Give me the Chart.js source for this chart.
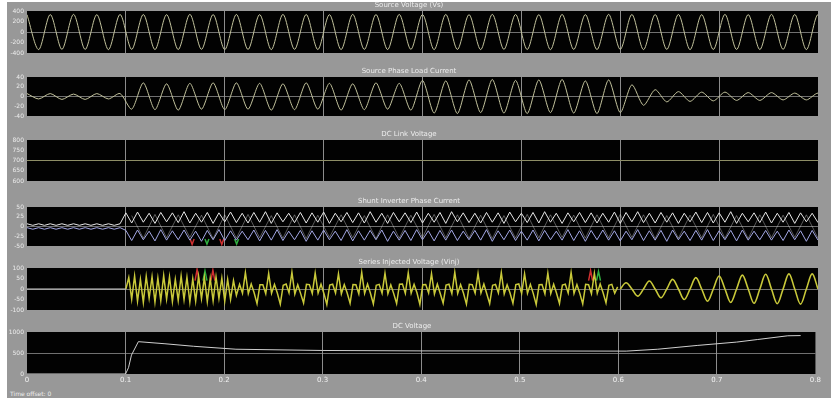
<!DOCTYPE html>
<html>
<head>
<meta charset="utf-8">
<script src="https://cdn.jsdelivr.net/npm/chart.js@4.4.1/dist/chart.umd.min.js"></script>
<style>
  html, body { margin: 0; padding: 0; background: #fff; }
  body { width: 831px; height: 398px; position: relative; overflow: hidden; font-family: "DejaVu Sans", sans-serif; }
  #frame { position: absolute; left: 7px; top: 2px; width: 824px; height: 396px; background: #989898; }
  .panel { position: absolute; left: 0; }
  .panel canvas { display: block; }
  #offset { position: absolute; left: 10px; top: 390px; font-size: 6px; color: #eee; }
</style>
</head>
<body>
<div id="frame"></div>
<div class="panel" style="top:0px"><canvas id="c1" width="818" height="59"></canvas></div>
<div class="panel" style="top:66px"><canvas id="c2" width="818" height="56"></canvas></div>
<div class="panel" style="top:129px"><canvas id="c3" width="818" height="58"></canvas></div>
<div class="panel" style="top:196px"><canvas id="c4" width="818" height="56"></canvas></div>
<div class="panel" style="top:257px"><canvas id="c5" width="818" height="59"></canvas></div>
<div class="panel" style="top:321px"><canvas id="c6" width="824" height="66"></canvas></div>
<div id="offset">Time offset:  0</div>
<script>
// sample spacing on the time axis (one mains period = 0.8 / 34)
const halfStep = 0.8 / 68;
const quarterStep = 0.8 / 136;
const eighthStep = 0.8 / 272;

const timeTicks = { min: 0, max: 0.8, step: 0.1 };

// Panel 1 - source voltage, peaks/troughs every half period
const p1Voltage = [330,-335,332,-330,336,-332,330,-336,334,-331,
  333,-335,330,-334,336,-330,332,-335,334,-332,
  331,-336,335,-330,333,-334,330,-335,336,-331,
  332,-334,335,-330,331,-336,334,-332,330,-335,
  336,-331,333,-334,330,-336,335,-332,331,-334,
  336,-330,333,-335,332,-331,334,-336,330,-333,
  335,-332,331,-334,336,-330,333,-335,332,-331];

// Panel 2 - load current, peaks/troughs every half period
const p2Current = [6,-5,6,-6,5,-6,6,-5,6,
  -26,28,-27,26,-28,27,-26,28,-27,28,-26,27,-28,26,-27,28,-26,27,-28,26,-27,28,-26,27,-28,
  33,-34,32,-35,34,-33,35,-34,33,-35,34,-33,35,-34,32,-35,34,-33,
  24,-18,14,-11,
  10,-10,9,-9,9,-8,8,-8,8,-7,7,-7,7,-7];

// Panel 3 - dc link
const p3Times = [0, 0.8];
const p3Volts = [700, 700];

// Panel 4 - inverter currents, quarter period samples
const p4PhaseA = [7,3,7,3,7,3,7,3,7,3,7,3,7,3,7,3,7,
  35,9,37,11,34,8,36,12,35,10,
  38,9,34,11,36,8,35,12,37,10,
  34,9,36,11,38,8,35,12,34,10,
  36,9,35,11,37,8,34,12,36,10,
  35,9,38,11,34,8,36,12,35,10,
  37,9,34,11,36,8,38,12,35,10,
  34,9,36,11,35,8,37,12,34,10,
  36,9,38,11,34,8,35,12,36,10,
  35,9,34,11,37,8,36,12,38,10,
  34,9,36,11,35,8,34,12,37,10,
  36,9,35,11,38,8,34,12,35,10,
  37,9,34,11,36,8,35,12,34,10];
const p4PhaseB = [-3,-7,-3,-7,-3,-7,-3,-7,-3,-7,-3,-7,-3,-7,-3,-7,-3,
  -10,-36,-9,-34,-12,-37,-8,-35,-11,-34,
  -9,-35,-12,-38,-10,-34,-8,-36,-11,-35,
  -12,-34,-9,-37,-10,-35,-8,-36,-12,-34,
  -10,-38,-11,-35,-9,-34,-12,-36,-8,-37,
  -11,-35,-10,-34,-9,-38,-12,-35,-10,-36,
  -8,-34,-11,-37,-10,-35,-9,-36,-12,-34,
  -10,-35,-8,-38,-11,-34,-9,-36,-12,-35,
  -9,-37,-10,-34,-12,-35,-8,-36,-11,-38,
  -10,-34,-9,-35,-11,-37,-12,-34,-8,-36,
  -11,-35,-10,-38,-9,-34,-12,-36,-10,-35,
  -8,-36,-11,-34,-10,-37,-9,-35,-12,-34,
  -10,-35,-12,-36,-9,-34,-11,-38,-10,-35];
// crossing trace, half period samples
const p4PhaseC = [null,null,null,null,null,null,null,null,null,
  28,-30,31,-29,30,-28,29,-31,30,-30,
  31,-29,28,-30,30,-31,29,-28,30,-29,
  28,-31,30,-30,29,-28,31,-29,30,-30,
  29,-31,28,-30,31,-29,30,-28,29,-30,
  30,-29,31,-28,30,-31,28,-30,29,-29,
  31,-30,28,-31,30,-29,29,-28,30,-30,
  29];
const p4RedTimes = [0.165,0.167,0.169,0.171,0.195,0.197,0.199,0.201];
const p4RedVals = [-32,-46,-32,null,-32,-46,-32,null];
const p4GreenTimes = [0.180,0.182,0.184,0.186,0.210,0.212,0.214,0.216];
const p4GreenVals = [-32,-45,-32,null,-32,-45,-32,null];

// Panel 5 - injected voltage
const p5IdleTimes = [0, 0.1];
const p5IdleVals = [0, 0];
// eighth period samples from t = 0.1
const p5Start = [0,55,-48,62,-58,46,-64,60,-44,58,-62,52,-56,64,-48,58,-60,46,-54,62,
  -50,56,-62,48,-58,60,-46,54,-60,50,-56,58,-44,52,-58,46,-50,40,-30];
const p5Spiky = [22,-20,78,-22,24,-18,-70,20,
  20,-22,74,-20,22,-20,-72,18,
  24,-18,80,-24,20,-22,-66,22,
  21,-21,76,-19,23,-21,-74,19,
  23,-19,72,-23,21,-19,-68,21,
  20,-23,79,-21,24,-20,-71,18,
  22,-20,75,-22,20,-22,-69,23,
  24,-21,77,-20,22,-18,-73,20,
  21,-19,73,-24,23,-21,-67,19,
  23,-22,80,-21,21,-20,-72,22,
  20,-20,74,-19,24,-23,-70,18,
  22,-18,78,-23,20,-19,-68,21,
  24,-21,72,-20,22,-22,-74,20,
  21,-23,76,-22,23,-20,-69,19,
  23,-19,79,-21,21,-21,-71,22,
  20,-22,75,-20,24,-18,-66,18,
  22,-20,10];
const p5Smooth = [0,30,0,-34,0,38,0,-42,0,46,0,-50,0,54,0,-58,0,62,0,-64,0,66,0,-68,0,70,0,-70,0,72,0,-72,0,72,0];
const p5RedTimes = [0.170,0.172,0.174,0.176,0.186,0.188,0.190,0.192,0.568,0.570,0.572,0.574];
const p5RedVals = [40,92,40,null,40,90,40,null,40,88,40,null];
const p5GreenTimes = [0.178,0.180,0.182,0.184,0.576,0.578,0.580,0.582];
const p5GreenVals = [40,86,40,null,40,84,40,null];

// Panel 6 - dc voltage
const p6Times = [0, 0.1, 0.103, 0.106, 0.113, 0.14, 0.169, 0.212, 0.3, 0.4, 0.5, 0.608, 0.64, 0.68, 0.72, 0.741, 0.772, 0.785];
const p6Volts = [0, 0, 150, 450, 770, 720, 660, 590, 560, 550, 548, 545, 590, 680, 760, 820, 910, 915];

function series(t0, dt, vals) {
  return vals.map((v, i) => ({ x: t0 + i * dt, y: v }));
}
function pairs(times, vals) {
  return times.map((t, i) => ({ x: t, y: vals[i] }));
}
function trace(data, color, width, tension) {
  return { data, borderColor: color, borderWidth: width || 1, tension: tension || 0, pointRadius: 0, fill: false, spanGaps: false };
}

// black plot area like the scope
const blackBox = {
  id: 'blackBox',
  beforeDraw(chart) {
    const { ctx, chartArea: a } = chart;
    ctx.save();
    ctx.fillStyle = '#020202';
    ctx.fillRect(a.left, a.top, a.right - a.left, a.bottom - a.top);
    ctx.restore();
  }
};

function makeScope(id, title, yMin, yMax, yStep, datasets, showTime) {
  const mid = (yMin + yMax) / 2;
  return new Chart(document.getElementById(id), {
    type: 'line',
    data: { datasets },
    options: {
      responsive: false,
      animation: false,
      devicePixelRatio: 1,
      layout: { padding: 0 },
      plugins: {
        legend: { display: false },
        tooltip: { enabled: false },
        title: {
          display: true, text: title, color: '#ececec',
          font: { size: 7, family: 'DejaVu Sans', weight: 'normal', lineHeight: 1 },
          padding: { top: 2, bottom: 2 }
        }
      },
      scales: {
        x: {
          type: 'linear', min: timeTicks.min, max: timeTicks.max,
          border: { display: false },
          grid: {
            drawTicks: false, lineWidth: 1,
            color: c => (c.tick.value > 0.01 && c.tick.value < 0.79) ? 'rgba(175,175,175,0.8)' : 'rgba(0,0,0,0)'
          },
          ticks: {
            display: showTime, stepSize: timeTicks.step, color: '#f2f2f2', maxRotation: 0,
            font: { size: 7, family: 'DejaVu Sans', lineHeight: 1 }, padding: 3
          },
          afterFit: s => { if (!showTime) s.height = 4; }
        },
        y: {
          min: yMin, max: yMax,
          border: { display: false },
          grid: {
            drawTicks: false,
            color: c => Math.abs(c.tick.value - mid) < 1e-6 ? 'rgba(150,150,150,0.75)' : 'rgba(0,0,0,0)'
          },
          ticks: {
            stepSize: yStep, color: '#ececec', padding: 3,
            font: { size: 6, family: 'DejaVu Sans', lineHeight: 1 },
            callback: v => String(v)
          },
          afterFit: s => { s.width = 27; }
        }
      }
    },
    plugins: [blackBox]
  });
}

const lineGrey = '#c2c29c';
const yellow = '#c9c93a';

makeScope('c1', 'Source Voltage (Vs)', -400, 400, 200, [
  trace(series(0, halfStep, p1Voltage), lineGrey, 1, 0.3)
], false);

makeScope('c2', 'Source Phase Load Current', -40, 40, 20, [
  trace(series(0, halfStep, p2Current), lineGrey, 1, 0.25)
], false);

makeScope('c3', 'DC Link Voltage', 600, 800, 50, [
  trace(pairs(p3Times, p3Volts), '#8e8e66', 1)
], false);

makeScope('c4', 'Shunt Inverter Phase Current', -50, 50, 25, [
  trace(series(0, halfStep, p4PhaseC), 'rgba(230,230,230,0.55)', 0.7),
  trace(series(0, quarterStep, p4PhaseB), '#a4a8e6', 1),
  trace(series(0, quarterStep, p4PhaseA), '#e8e8e8', 1),
  trace(pairs(p4RedTimes, p4RedVals), '#d03030', 1.5),
  trace(pairs(p4GreenTimes, p4GreenVals), '#30b040', 1.5)
], false);

makeScope('c5', 'Series Injected Voltage (Vinj)', -100, 100, 50, [
  trace(pairs(p5IdleTimes, p5IdleVals), '#cfcfcf', 1),
  trace(series(0.1, eighthStep, p5Start).concat(series(0.215, eighthStep, p5Spiky)), yellow, 1.5),
  trace(series(0.6, quarterStep, p5Smooth), yellow, 1.6, 0.35),
  trace(pairs(p5RedTimes, p5RedVals), '#d03030', 1.5),
  trace(pairs(p5GreenTimes, p5GreenVals), '#30b040', 1.5)
], false);

makeScope('c6', 'DC Voltage', 0, 1000, 500, [
  trace(pairs(p6Times, p6Volts), '#cfcfcf', 1)
], true);
</script>
</body>
</html>
